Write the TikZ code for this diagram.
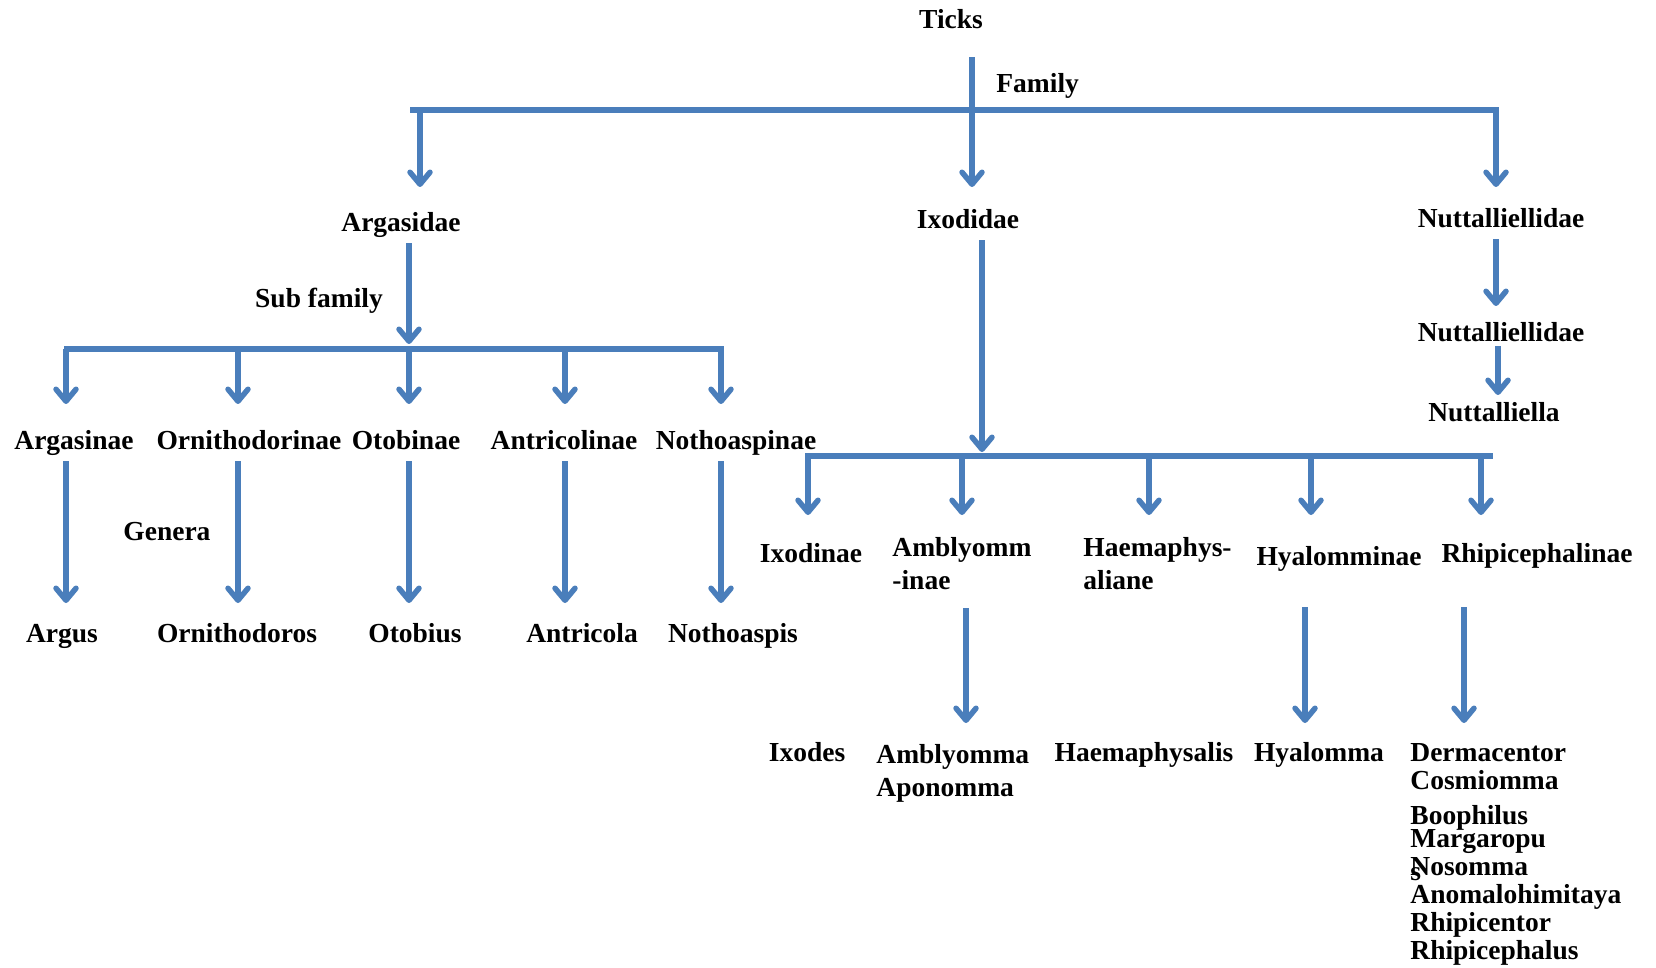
\documentclass[tikz,border=0pt]{standalone}
\usepackage{fontspec}
\setmainfont{Liberation Serif}
\usetikzlibrary{arrows.meta}
\definecolor{tickblue}{RGB}{74,126,187}

\begin{document}
\begin{tikzpicture}[x=0.5pt,y=-0.5pt]

\tikzset{taxon/.style = {font=\fontsize{13.75}{16.5}\selectfont\bfseries, inner xsep=0pt, inner ysep=5.5pt, text height=9.5pt, text depth=0pt, anchor=base}}
\tikzset{ltaxon/.style = {taxon, anchor=base west}}
\tikzset{block/.style = {font=\fontsize{13.75}{16.5}\selectfont\bfseries, inner sep=0pt, align=left, anchor=north west}}
\tikzset{edge/.style = {draw=tickblue, line width=2.75pt, -{Straight Barb[length=6pt,width=10pt,round]}}}
\tikzset{bar/.style = {draw=tickblue, line width=2.75pt}}

\useasboundingbox (0,0) rectangle (1656,968);

\node[taxon] (ticks) at (951,29) {Ticks};
\node[ltaxon] (family) at (996,93) {Family};
\node[taxon] (argasidae) at (401,232) {Argasidae};
\node[taxon] (ixodidae) at (968,229) {Ixodidae};
\node[taxon] (nuttfam) at (1501,228) {Nuttalliellidae};
\node[taxon] (nuttsub) at (1501,342) {Nuttalliellidae};
\node[taxon] (nuttalliella) at (1494,422) {Nuttalliella};

\coordinate (fl) at (410,110);
\coordinate (fr) at (1499,110);
\coordinate (f1) at (420,110);
\coordinate (f3) at (1496,110);
\coordinate (f1tip) at (420,187);
\coordinate (f2tip) at (972,187);
\coordinate (f3tip) at (1496,187);

\draw[bar] (fl) -- (fr);
\draw[edge, shorten <=8.5pt] (ticks.south -| f2tip) -- (f2tip);
\draw[edge] (f1) -- (f1tip);
\draw[edge] (f3) -- (f3tip);

\coordinate (n1tip) at (1496,306);
\coordinate (n2tip) at (1498,395);
\draw[edge] (nuttfam.south -| n1tip) -- (n1tip);
\draw[edge, shorten <=-3.5pt] (nuttsub.south -| n2tip) -- (n2tip);

\node[taxon] (subfamily) at (319,308) {Sub family};
\coordinate (sl) at (64,349);
\coordinate (sr) at (724,349);
\coordinate (stip) at (409,344);
\draw[edge] (argasidae.south -| stip) -- (stip);
\draw[bar] (sl) -- (sr);

\node[taxon] (argasinae) at (74,450) {Argasinae};
\node[taxon] (ornithodorinae) at (249,450) {Ornithodorinae};
\node[taxon] (otobinae) at (406,450) {Otobinae};
\node[taxon] (antricolinae) at (564,450) {Antricolinae};
\node[taxon] (nothoaspinae) at (736,450) {Nothoaspinae};

\node[ltaxon] (genera) at (123,540) {Genera};

\node[taxon] (argus) at (62,642) {Argus};
\node[taxon] (ornithodoros) at (237,642) {Ornithodoros};
\node[taxon] (otobius) at (415,642) {Otobius};
\node[taxon] (antricola) at (582,642) {Antricola};
\node[taxon] (nothoaspis) at (733,642) {Nothoaspis};

\coordinate (s1) at (66,349);
\coordinate (s2) at (238,349);
\coordinate (s3) at (409,349);
\coordinate (s4) at (565,349);
\coordinate (s5) at (721,349);
\coordinate (s1tip) at (66,404);
\coordinate (s2tip) at (238,404);
\coordinate (s3tip) at (409,404);
\coordinate (s4tip) at (565,404);
\coordinate (s5tip) at (721,404);
\coordinate (g1tip) at (66,603);
\coordinate (g2tip) at (238,603);
\coordinate (g3tip) at (409,603);
\coordinate (g4tip) at (565,603);
\coordinate (g5tip) at (721,603);

\draw[edge] (s1) -- (s1tip);
\draw[edge] (s2) -- (s2tip);
\draw[edge] (s3) -- (s3tip);
\draw[edge] (s4) -- (s4tip);
\draw[edge] (s5) -- (s5tip);
\draw[edge] (argasinae.south -| g1tip) -- (g1tip);
\draw[edge] (ornithodorinae.south -| g2tip) -- (g2tip);
\draw[edge] (otobinae.south -| g3tip) -- (g3tip);
\draw[edge] (antricolinae.south -| g4tip) -- (g4tip);
\draw[edge] (nothoaspinae.south -| g5tip) -- (g5tip);

\coordinate (il) at (805,456);
\coordinate (ir) at (1493,456);
\coordinate (itip) at (982,452);
\draw[edge] (ixodidae.south -| itip) -- (itip);
\draw[bar] (il) -- (ir);

\coordinate (i1) at (808,456);
\coordinate (i2) at (962,456);
\coordinate (i3) at (1149,456);
\coordinate (i4) at (1311,456);
\coordinate (i5) at (1481,456);
\coordinate (i1tip) at (808,515);
\coordinate (i2tip) at (962,515);
\coordinate (i3tip) at (1149,515);
\coordinate (i4tip) at (1311,515);
\coordinate (i5tip) at (1481,515);
\draw[edge] (i1) -- (i1tip);
\draw[edge] (i2) -- (i2tip);
\draw[edge] (i3) -- (i3tip);
\draw[edge] (i4) -- (i4tip);
\draw[edge] (i5) -- (i5tip);

\node[taxon] (ixodinae) at (811,562) {Ixodinae};
\node[block] (amblyomminae) at (892,537) {Amblyomm\\-inae};
\node[block] (haemaphysalinae) at (1083,537) {Haemaphys-\\aliane};
\node[taxon] (hyalomminae) at (1339,565) {Hyalomminae};
\node[taxon] (rhipicephalinae) at (1537,562) {Rhipicephalinae};

\node[taxon] (ixodes) at (807,761) {Ixodes};
\node[block] (amblyomma) at (876,744) {Amblyomma\\Aponomma};
\node[taxon] (haemaphysalis) at (1144,761) {Haemaphysalis};
\node[taxon] (hyalomma) at (1319,761) {Hyalomma};
\node[ltaxon] (dermacentor) at (1410,761) {Dermacentor};
\node[ltaxon] (cosmiomma) at (1410,789) {Cosmiomma};
\node[ltaxon] (boophilus) at (1410,824) {Boophilus};
\node[ltaxon] (margaropus) at (1410,847) {Margaropu};
\node[ltaxon] (nosomma) at (1410,875) {Nosomma};
\node[ltaxon] (margaropus-s) at (1410,880) {s};
\node[ltaxon] (anomalohimitaya) at (1410,903) {Anomalohimitaya};
\node[ltaxon] (rhipicentor) at (1410,931) {Rhipicentor};
\node[ltaxon] (rhipicephalus) at (1410,959) {Rhipicephalus};

\coordinate (atip) at (966,723);
\coordinate (htip) at (1305,723);
\coordinate (rtip) at (1464,723);
\draw[edge, shorten <=9pt] (amblyomminae.south -| atip) -- (atip);
\draw[edge, shorten <=15.5pt] (hyalomminae.south -| htip) -- (htip);
\draw[edge, shorten <=17pt] (rhipicephalinae.south -| rtip) -- (rtip);

\end{tikzpicture}
\end{document}
